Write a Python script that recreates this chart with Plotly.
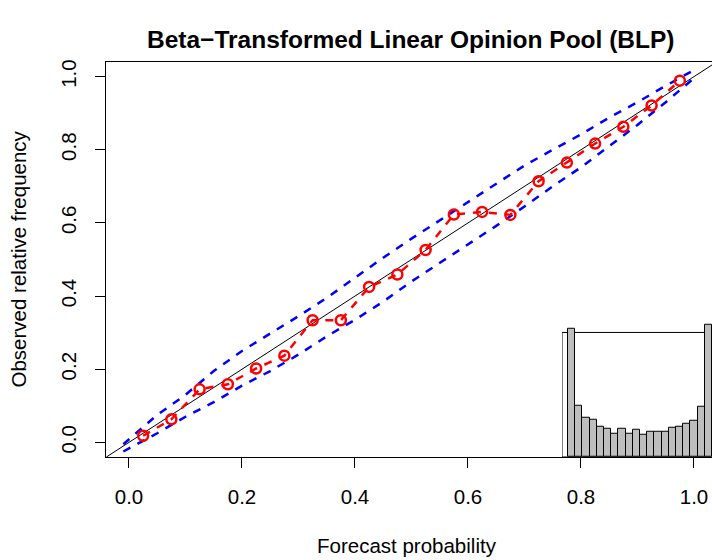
import plotly.graph_objects as go

# ---- data ----
bin_centers = [0.025, 0.075, 0.125, 0.175, 0.225, 0.275, 0.325, 0.375, 0.425, 0.475,
               0.525, 0.575, 0.625, 0.675, 0.725, 0.775, 0.825, 0.875, 0.925, 0.975]
obs_freq = [0.018, 0.063, 0.145, 0.159, 0.202, 0.237, 0.334, 0.334, 0.425, 0.459,
            0.526, 0.623, 0.630, 0.622, 0.714, 0.765, 0.817, 0.863, 0.921, 0.989]

band_x = [-0.01, 0.05, 0.10, 0.15, 0.20, 0.25, 0.30, 0.35, 0.40, 0.45, 0.50,
          0.55, 0.60, 0.65, 0.70, 0.75, 0.80, 0.85, 0.90, 0.95, 1.00]
band_upper = [-0.005, 0.075, 0.130, 0.195, 0.250, 0.297, 0.345, 0.395, 0.450, 0.505, 0.557,
              0.607, 0.657, 0.707, 0.757, 0.800, 0.842, 0.888, 0.930, 0.975, 1.018]
band_lower = [-0.025, 0.025, 0.070, 0.110, 0.155, 0.195, 0.240, 0.290, 0.335, 0.385, 0.440,
              0.490, 0.540, 0.592, 0.645, 0.700, 0.752, 0.810, 0.868, 0.930, 0.996]

hist_density = [3.09, 1.24, 0.95, 0.90, 0.73, 0.68, 0.57, 0.68, 0.57, 0.66,
                0.54, 0.62, 0.61, 0.62, 0.71, 0.74, 0.80, 0.87, 1.22, 3.18]
hist_box_top = 3.0

xticks = [0.0, 0.2, 0.4, 0.6, 0.8, 1.0]
yticks = [0.0, 0.2, 0.4, 0.6, 0.8, 1.0]

title = "Beta\u2212Transformed Linear Opinion Pool (BLP)"
xlab = "Forecast probability"
ylab = "Observed relative frequency"

XR = [-0.0407, 1.0319]
YR = [-0.04, 1.04]

FONT = "Liberation Sans, Arial, Helvetica, sans-serif"
FS = 20.5

fig = go.Figure()

# diagonal
fig.add_trace(go.Scatter(x=YR, y=YR, mode="lines",
                         line=dict(color="black", width=1), hoverinfo="skip"))
# bands
fig.add_trace(go.Scatter(x=band_x, y=band_upper, mode="lines",
                         line=dict(color="#0000FF", width=2.5, dash="8px,8px")))
fig.add_trace(go.Scatter(x=band_x, y=band_lower, mode="lines",
                         line=dict(color="#0000FF", width=2.5, dash="8px,8px")))
# observed
fig.add_trace(go.Scatter(x=bin_centers, y=obs_freq, mode="lines+markers",
                         line=dict(color="#FF0000", width=2.5, dash="8px,8px"),
                         marker=dict(symbol="circle-open", size=10, color="#FF0000",
                                     line=dict(width=2.5, color="#FF0000"))))
# inset histogram
fig.add_trace(go.Bar(x=bin_centers, y=hist_density, width=0.05,
                     marker=dict(color="#BEBEBE", line=dict(color="black", width=1)),
                     xaxis="x2", yaxis="y2"))

fig.add_shape(type="rect", xref="x2", yref="y2", x0=-0.0417, x1=1.2, y0=0, y1=hist_box_top,
              line=dict(color="black", width=1), fillcolor="white", layer="below")

fig.update_layout(
    width=712, height=560,
    margin=dict(l=106, r=0, t=62, b=103),
    paper_bgcolor="white", plot_bgcolor="rgba(0,0,0,0)",
    showlegend=False,
    font=dict(family=FONT, size=FS, color="black"),
    xaxis=dict(range=XR, tickvals=xticks, ticktext=[f"{v:.1f}" for v in xticks],
               showgrid=False, zeroline=False, showline=True, mirror=True,
               linecolor="black", linewidth=1, ticks="outside", ticklen=10,
               tickcolor="black", tickwidth=1, ticklabelstandoff=11,
               tickfont=dict(size=FS, family=FONT)),
    yaxis=dict(range=YR, tickvals=yticks, ticktext=[f"{v:.1f}" for v in yticks],
               showgrid=False, zeroline=False, showline=True, mirror=False,
               linecolor="black", linewidth=1, ticks="outside", ticklen=10,
               tickcolor="black", tickwidth=1, tickangle=-90, ticklabelstandoff=11,
               tickfont=dict(size=FS, family=FONT)),
    xaxis2=dict(domain=[0.7525, 1.0], range=[-0.0417, 1.0], anchor="y2",
                visible=False, showgrid=False, zeroline=False),
    yaxis2=dict(domain=[0.0, 0.35], range=[0, 3.33], anchor="x2",
                visible=False, showgrid=False, zeroline=False),
    bargap=0,
    annotations=[
        dict(text="<b>" + title + "</b>", xref="paper", yref="paper",
             x=0.503, y=1.0557, xanchor="center", yanchor="middle",
             showarrow=False, font=dict(size=24.5, family=FONT)),
        dict(text=xlab, xref="paper", yref="paper", x=0.497, y=-0.2228,
             xanchor="center", yanchor="middle", showarrow=False,
             font=dict(size=FS, family=FONT)),
        dict(text=ylab, xref="paper", yref="paper", x=-0.1452, y=0.5,
             xanchor="center", yanchor="middle", textangle=-90, showarrow=False,
             font=dict(size=FS, family=FONT)),
    ],
)

fig.write_html("out.html")
